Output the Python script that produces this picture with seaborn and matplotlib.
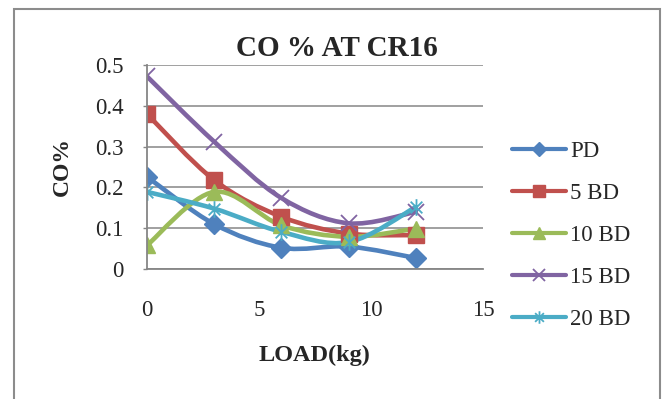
import numpy as np
import matplotlib
matplotlib.use("Agg")
import matplotlib.pyplot as plt
from matplotlib.path import Path
from matplotlib.patches import PathPatch, Rectangle
from matplotlib.lines import Line2D
import seaborn as sns

# values
loads = [0, 3, 6, 9, 12]
pd_vals = [0.226, 0.110, 0.052, 0.055, 0.027]
bd5_vals = [0.380, 0.218, 0.128, 0.087, 0.083]
bd10_vals = [0.058, 0.189, 0.107, 0.079, 0.099]
bd15_vals = [0.472, 0.312, 0.174, 0.112, 0.140]
bd20_vals = [0.189, 0.148, 0.091, 0.066, 0.152]
series_names = ["PD", "5 BD", "10 BD", "15 BD", "20 BD"]

sns.set_style("white")
plt.rcParams["font.family"] = ["Liberation Serif", "DejaVu Serif"]

# Excel style asterisk marker (x plus a vertical bar)
star = Path([(0, -1), (0, 1), (-0.7, -0.7), (0.7, 0.7), (-0.7, 0.7), (0.7, -0.7)],
            [Path.MOVETO, Path.LINETO] * 3)

# colour, marker, size on plot, size in legend, edge width
styles = [
    ("#4F81BD", "D", 10, 7, 1.0),
    ("#C0504D", "s", 11, 8, 1.0),
    ("#9BBB59", "^", 12, 8, 1.0),
    ("#8064A2", "x", 11, 8, 1.3),
    ("#4BACC6", star, 12, 9, 1.3),
]
all_vals = [pd_vals, bd5_vals, bd10_vals, bd15_vals, bd20_vals]


def smooth_path(xs, ys):
    # Bezier segments like Excel's "smoothed line"
    p = np.column_stack([xs, ys]).astype(float)
    ext = np.vstack([p[0], p, p[-1]])
    verts = [tuple(p[0])]
    codes = [Path.MOVETO]
    for i in range(len(p) - 1):
        c1 = ext[i + 1] + (ext[i + 2] - ext[i]) / 6
        c2 = ext[i + 2] - (ext[i + 3] - ext[i + 1]) / 6
        verts += [tuple(c1), tuple(c2), tuple(p[i + 1])]
        codes += [Path.CURVE4] * 3
    return Path(verts, codes)


fig = plt.figure(figsize=(6.63, 3.99), dpi=100)
ax = fig.add_axes([147 / 663, 1 - 269 / 399, 336 / 663, 204 / 399])

handles = []
for vals, name, (color, mk, ms, lms, mew) in zip(all_vals, series_names, styles):
    ax.add_patch(PathPatch(smooth_path(loads, vals), fill=False, ec=color, lw=3.3,
                           capstyle="round", joinstyle="round"))
    sns.lineplot(x=loads, y=vals, ax=ax, color=color, marker=mk, markersize=ms,
                 linestyle="none", markeredgecolor=color, markeredgewidth=mew,
                 legend=False)
    handles.append(Line2D([], [], color=color, lw=3.0, marker=mk, markersize=lms,
                          markeredgecolor=color, markeredgewidth=mew, label=name))

ax.set_xlim(0, 15)
ax.set_ylim(0, 0.5)
ax.set_xticks([0, 5, 10, 15])
ax.set_yticks([0, 0.1, 0.2, 0.3, 0.4, 0.5])
ax.set_yticklabels(["0", "0.1", "0.2", "0.3", "0.4", "0.5"])
ax.yaxis.grid(True, color="#868686", lw=1.1)
ax.set_axisbelow(True)
for s in ["top", "right"]:
    ax.spines[s].set_visible(False)
for s in ["left", "bottom"]:
    ax.spines[s].set_color("#868686")
    ax.spines[s].set_linewidth(1.3)
ax.tick_params(axis="y", length=3, width=1, color="#868686", pad=14, labelsize=16.5, direction="out", left=True)
ax.tick_params(axis="x", length=0, pad=22, labelsize=16.5)
ax.set_xlabel("")
ax.set_ylabel("")

fig.text(337 / 663, 1 - 48 / 399, "CO % AT CR16", ha="center", va="center",
         fontsize=21, fontweight="bold")
fig.text(62 / 663, 1 - 167 / 399, "CO%", ha="center", va="center", rotation=90,
         fontsize=17, fontweight="bold")
fig.text(314 / 663, 1 - 355 / 399, "LOAD(kg)", ha="center", va="center",
         fontsize=17.5, fontweight="bold")

fig.legend(handles=handles, loc="upper left", bbox_to_anchor=(512 / 663, 1 - 141 / 399),
           frameon=False, fontsize=16.5, handlelength=2.36, handletextpad=0.17,
           labelspacing=0.91, borderpad=0, borderaxespad=0)

fig.patches.append(Rectangle((14 / 663, -0.05), 646 / 663, 1.05 - 9 / 399,
                             transform=fig.transFigure, fill=False, ec="#8c8c8c", lw=1.5))

fig.savefig("out.png", dpi=100)
